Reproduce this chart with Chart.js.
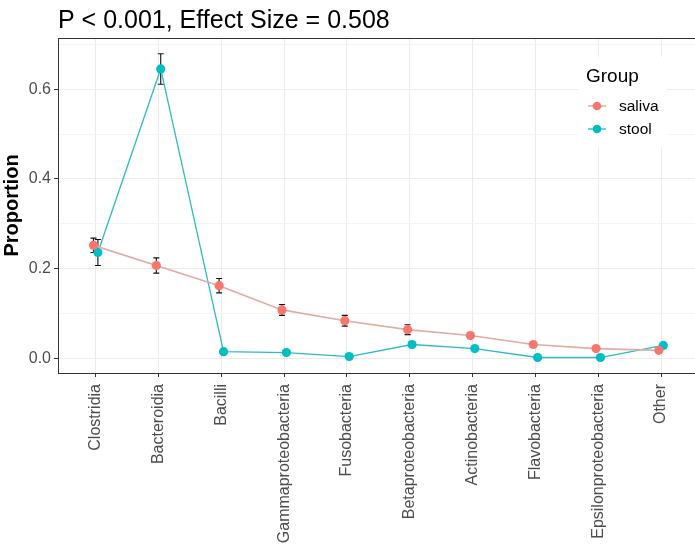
<!DOCTYPE html>
<html>
<head>
<meta charset="utf-8">
<script src="https://cdn.jsdelivr.net/npm/chart.js@4.4.1/dist/chart.umd.min.js"></script>
<style>
  html, body { margin: 0; padding: 0; background: #fff; }
  #wrap { position: relative; width: 695px; height: 548px; }
</style>
</head>
<body>
<div id="wrap"><canvas id="chart"></canvas></div>
<script>
const categories = ["Clostridia", "Bacteroidia", "Bacilli", "Gammaproteobacteria", "Fusobacteria",
    "Betaproteobacteria", "Actinobacteria", "Flavobacteria", "Epsilonproteobacteria", "Other"];

const salivaMean = [0.252, 0.207, 0.162, 0.108, 0.084, 0.064, 0.051, 0.031, 0.022, 0.018];
const salivaErr  = [0.016, 0.017, 0.016, 0.012, 0.012, 0.011, 0.006, 0.004, 0.004, 0.004];

const stoolMean = [0.236, 0.645, 0.015, 0.013, 0.004, 0.031, 0.022, 0.002, 0.002, 0.029];
const stoolErr  = [0.029, 0.034, 0.003, 0.003, 0.002, 0.005, 0.003, 0.001, 0.001, 0.004];

const yTicks = [0.0, 0.1, 0.2, 0.3, 0.4, 0.5, 0.6, 0.7];
const titleText = "P < 0.001, Effect Size = 0.508";
const dodge = 0.035;

function points(values, shift) {
    return values.map((v, i) => ({ x: i + 1 + shift, y: v }));
}

// error bars, drawn before the points so markers sit on top
const errorBars = {
    id: "errorBars",
    beforeDatasetsDraw(chart) {
        const { ctx, scales: { x, y } } = chart;
        ctx.save();
        ctx.strokeStyle = "#111";
        ctx.lineWidth = 1.1;
        [[salivaMean, salivaErr, -dodge], [stoolMean, stoolErr, dodge]].forEach(([m, e, s]) => {
            m.forEach((v, i) => {
                const px = x.getPixelForValue(i + 1 + s);
                const top = y.getPixelForValue(v + e[i]);
                const bot = y.getPixelForValue(v - e[i]);
                ctx.beginPath();
                ctx.moveTo(px, top); ctx.lineTo(px, bot);
                ctx.moveTo(px - 3, top); ctx.lineTo(px + 3, top);
                ctx.moveTo(px - 3, bot); ctx.lineTo(px + 3, bot);
                ctx.stroke();
            });
        });
        ctx.restore();
    }
};

// panel border, title and the inset legend
const decor = {
    id: "decor",
    afterDraw(chart) {
        const { ctx, chartArea: a } = chart;
        ctx.save();
        ctx.strokeStyle = "#333";
        ctx.lineWidth = 1;
        ctx.strokeRect(Math.round(a.left) + 0.5, Math.round(a.top) + 0.5,
            Math.round(a.right - a.left) + 4, Math.round(a.bottom - a.top));

        ctx.fillStyle = "#000";
        ctx.font = "25px 'Liberation Sans', Arial, sans-serif";
        ctx.textBaseline = "alphabetic";
        ctx.fillText(titleText, a.left, 28);

        // legend
        const lx = 578, ly = 57;
        ctx.fillStyle = "#fff";
        ctx.fillRect(lx, ly, 89, 91);
        ctx.fillStyle = "#000";
        ctx.font = "19px 'Liberation Sans', Arial, sans-serif";
        ctx.fillText("Group", 586, 82);
        const items = [["saliva", "#F8766D", "#E0ADA4"], ["stool", "#00BFC4", "#3CC3C6"]];
        ctx.font = "15.5px 'Liberation Sans', Arial, sans-serif";
        items.forEach(([label, c, lc], k) => {
            const cy = 106 + k * 23;
            ctx.strokeStyle = lc;
            ctx.lineWidth = 1.5;
            ctx.beginPath(); ctx.moveTo(588, cy); ctx.lineTo(606, cy); ctx.stroke();
            ctx.fillStyle = c;
            ctx.beginPath(); ctx.arc(597, cy, 4.3, 0, Math.PI * 2); ctx.fill();
            ctx.fillStyle = "#000";
            ctx.textBaseline = "middle";
            ctx.fillText(label, 619, cy + 1);
        });
        ctx.restore();
    }
};

new Chart(document.getElementById("chart"), {
    type: "line",
    data: {
        datasets: [{
            label: "saliva",
            data: points(salivaMean, -dodge),
            borderColor: "#E0ADA4",
            backgroundColor: "#F8766D",
            pointBackgroundColor: "#F8766D",
            pointBorderWidth: 0,
            pointRadius: 4.6,
            borderWidth: 1.7,
            tension: 0
        }, {
            label: "stool",
            data: points(stoolMean, dodge),
            borderColor: "#2DBCC0",
            backgroundColor: "#00BFC4",
            pointBackgroundColor: "#00BFC4",
            pointBorderWidth: 0,
            pointRadius: 4.6,
            borderWidth: 1.3,
            tension: 0
        }]
    },
    options: {
        responsive: true,
        maintainAspectRatio: false,
        animation: false,
        layout: { autoPadding: false, padding: { top: 38, right: 0, left: 0, bottom: 0 } },
        plugins: {
            legend: { display: false },
            tooltip: { enabled: false }
        },
        scales: {
            x: {
                type: "linear",
                min: 0.4,
                max: 10.54,
                afterBuildTicks: s => { s.ticks = categories.map((c, i) => ({ value: i + 1 })); },
                afterFit: s => { s.height = 175; s.paddingLeft = 0; s.paddingRight = 0; },
                ticks: {
                    autoSkip: false,
                    minRotation: 90,
                    maxRotation: 90,
                    padding: 7,
                    color: "#4D4D4D",
                    font: { family: "'Liberation Sans', Arial, sans-serif", size: 16 },
                    callback: v => categories[v - 1]
                },
                grid: { color: "#EBEBEB", lineWidth: 1, tickColor: "#333", tickLength: 4 },
                border: { color: "#333", width: 1 }
            },
            y: {
                min: -0.0325,
                max: 0.714,
                afterBuildTicks: s => { s.ticks = yTicks.map(v => ({ value: v })); },
                afterFit: s => { s.width = 58; },
                ticks: {
                    padding: 3,
                    color: "#4D4D4D",
                    font: { family: "'Liberation Sans', Arial, sans-serif", size: 16 },
                    callback: v => (Math.round(v * 10) % 2 === 0 ? v.toFixed(1) : "")
                },
                grid: {
                    color: c => (Math.round(c.tick.value * 10) % 2 === 0 ? "#EBEBEB" : "#F4F4F4"),
                    tickColor: c => (Math.round(c.tick.value * 10) % 2 === 0 ? "#333" : "rgba(0,0,0,0)"),
                    lineWidth: 1,
                    tickLength: 4
                },
                border: { color: "#333", width: 1 },
                title: {
                    display: true,
                    text: "Proportion",
                    color: "#000",
                    padding: { top: 0, bottom: 4 },
                    font: { family: "'Liberation Sans', Arial, sans-serif", size: 20, weight: "bold" }
                }
            }
        }
    },
    plugins: [errorBars, decor]
});
</script>
</body>
</html>
